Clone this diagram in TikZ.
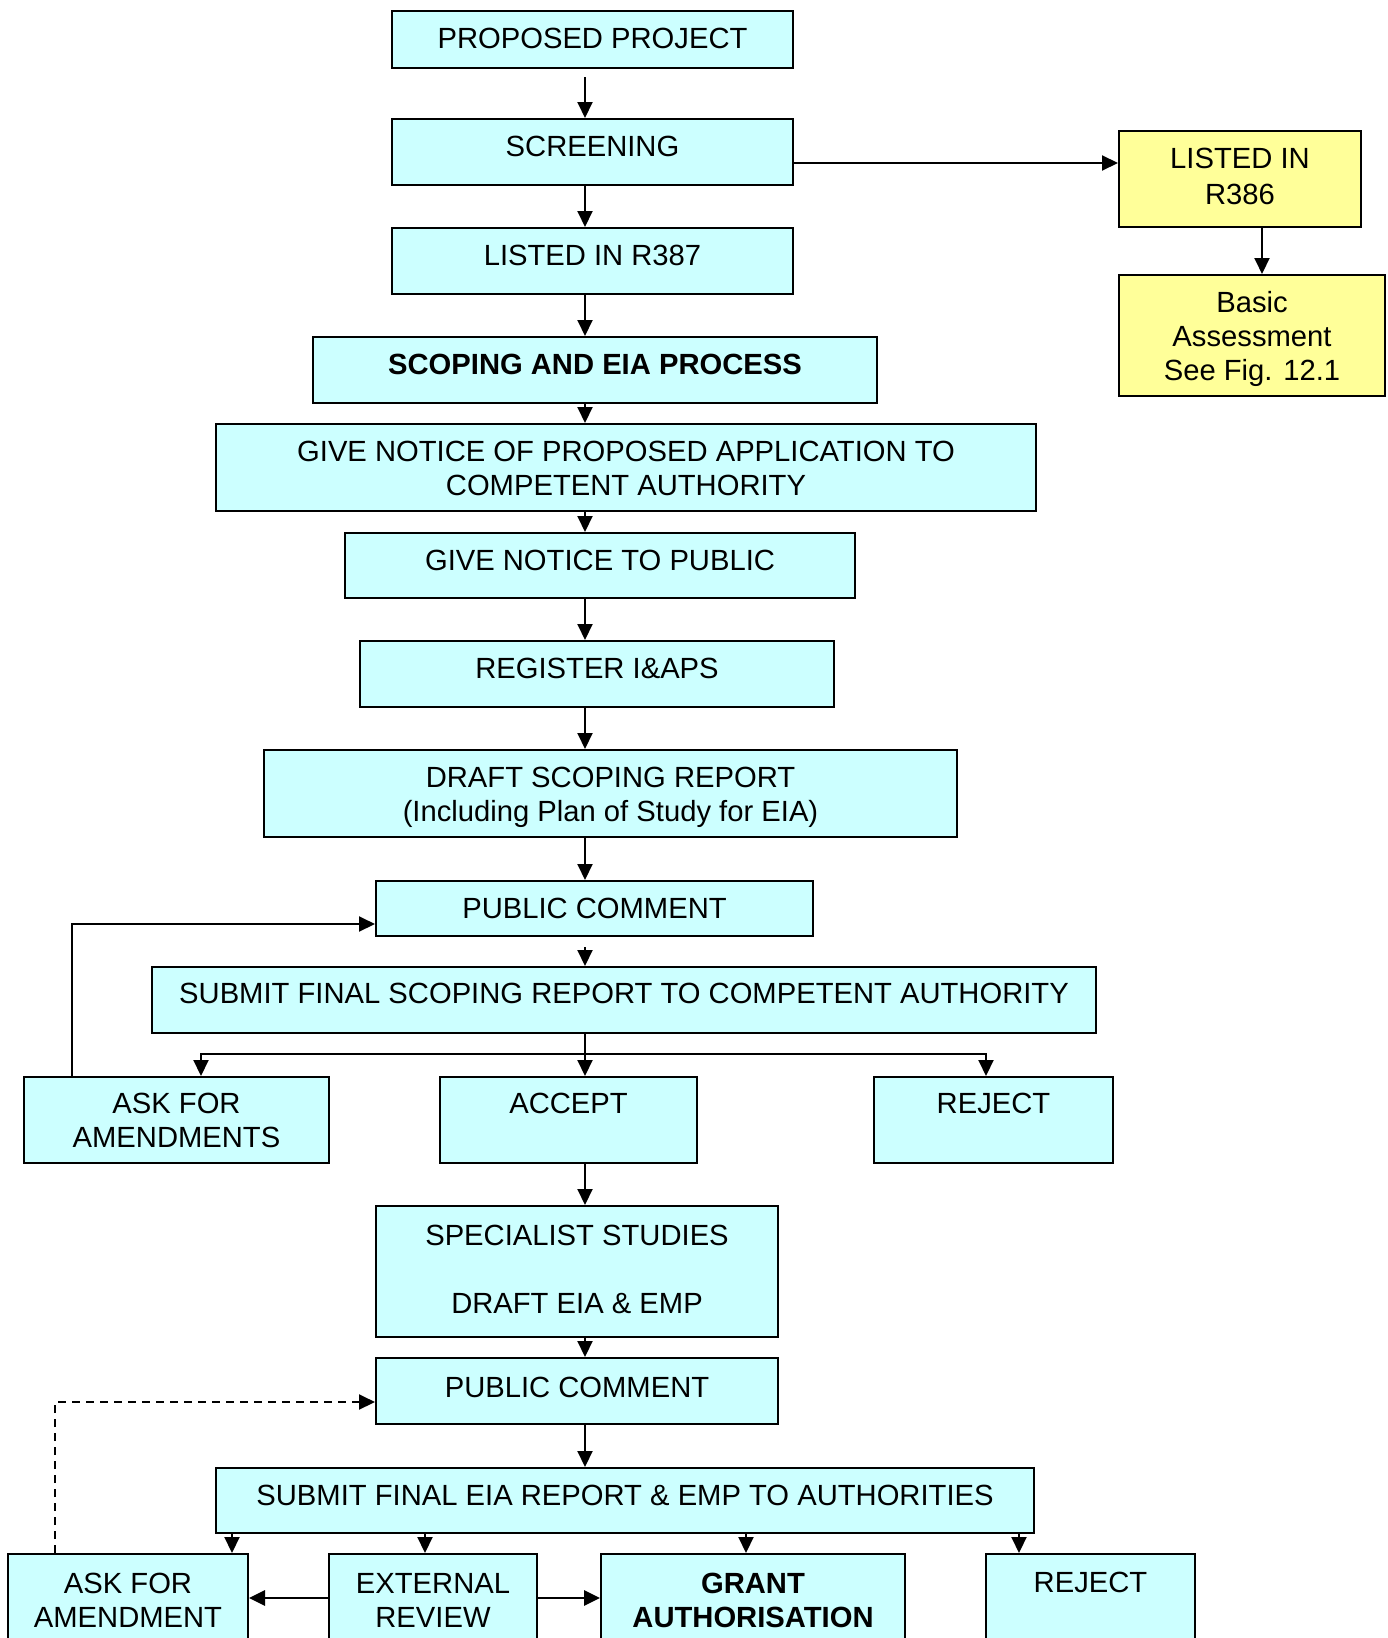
\documentclass[tikz,border=0pt]{standalone}
\usepackage{fontspec}
\setmainfont{Liberation Sans}
\usetikzlibrary{arrows.meta}
\definecolor{cbox}{HTML}{CCFFFF}
\definecolor{ybox}{HTML}{FFFF99}
\newcommand\cstr{\rule{0pt}{0.716em}}
\begin{document}
\begin{tikzpicture}[x=0.5pt,y=-0.5pt,
  bx/.style 2 args={draw=black, line width=1pt, fill=cbox, inner sep=0pt, minimum width=#1*0.5pt, minimum height=#2*0.5pt},
  yb/.style 2 args={bx={#1}{#2}, fill=ybox},
  lbl/.style={anchor=north, inner sep=0pt, align=center, font=\fontsize{14.6pt}{17pt}\selectfont},
  arr/.style={line width=1pt, -{Triangle[length=8pt,width=7.5pt]}},
  ln/.style={line width=1pt}]
\clip (0,0) rectangle (1387,1638);
\fill[white] (0,0) rectangle (1387,1638);
% axis coordinates
\coordinate (ax) at (585,0);
% boxes
\node[bx={401}{57}] (pp) at (592.5,39.5) {};
\node[bx={401}{66}] (scr) at (592.5,152) {};
\node[bx={401}{66}] (r387) at (592.5,261) {};
\node[bx={564}{66}] (scop) at (595,370) {};
\node[yb={242}{96}] (r386) at (1240,179) {};
\node[yb={266}{121}] (basic) at (1252,335.5) {};
\node[bx={820}{87}] (gnpa) at (626,467.5) {};
\node[bx={510}{65}] (gnp) at (600,565.5) {};
\node[bx={474}{66}] (reg) at (597,674) {};
\node[bx={693}{87}] (draft) at (610.5,793.5) {};
\node[bx={437}{55}] (pc1) at (594.5,908.5) {};
\node[bx={944}{66}] (sub1) at (624,1000) {};
\node[bx={305}{86}] (ask1) at (176.5,1120) {};
\node[bx={257}{86}] (acc) at (568.5,1120) {};
\node[bx={239}{86}] (rej1) at (993.5,1120) {};
\node[bx={402}{131}] (spec) at (577,1271.5) {};
\node[bx={402}{66}] (pc2) at (577,1391) {};
\node[bx={818}{65}] (sub2) at (625,1500.5) {};
\node[bx={240}{140}] (ask2) at (128,1624) {};
\node[bx={208}{140}] (ext) at (433,1624) {};
\node[bx={304}{140}] (grant) at (753,1624) {};
\node[bx={209}{140}] (rej2) at (1090.5,1624) {};
% labels
\node[lbl] (tpp) at ([yshift=-8.5pt]pp.north) {\cstr PROPOSED PROJECT};
\node[lbl] (tscr) at ([yshift=-8.5pt]scr.north) {\cstr SCREENING};
\node[lbl] (tr387) at ([yshift=-8.5pt]r387.north) {\cstr LISTED IN R387};
\node[lbl] (tscop) at ([yshift=-8.5pt]scop.north) {\cstr\bfseries SCOPING AND EIA PROCESS};
\node[lbl, font=\fontsize{14.6pt}{18pt}\selectfont] (tr386) at ([yshift=-8.5pt]r386.north) {\cstr LISTED IN\\R386};
\node[lbl] (tbasic) at ([yshift=-8.5pt]basic.north) {\cstr Basic\\Assessment\\See Fig. 12.1};
\node[lbl] (tgnpa) at ([yshift=-8.5pt]gnpa.north) {\cstr GIVE NOTICE OF PROPOSED APPLICATION TO\\COMPETENT AUTHORITY};
\node[lbl] (tgnp) at ([yshift=-8.5pt]gnp.north) {\cstr GIVE NOTICE TO PUBLIC};
\node[lbl] (treg) at ([yshift=-8.5pt]reg.north) {\cstr REGISTER I\&APS};
\node[lbl] (tdraft) at ([yshift=-8.5pt]draft.north) {\cstr DRAFT SCOPING REPORT\\(Including Plan of Study for EIA)};
\node[lbl] (tpc1) at ([yshift=-8.5pt]pc1.north) {\cstr PUBLIC COMMENT};
\node[lbl] (tsub1) at ([yshift=-8pt]sub1.north) {\cstr SUBMIT FINAL SCOPING REPORT TO COMPETENT AUTHORITY};
\node[lbl] (task1) at ([yshift=-8pt]ask1.north) {\cstr ASK FOR\\AMENDMENTS};
\node[lbl] (tacc) at ([yshift=-8pt]acc.north) {\cstr ACCEPT};
\node[lbl] (trej1) at ([yshift=-8pt]rej1.north) {\cstr REJECT};
\node[lbl] (tspec) at ([yshift=-9.5pt]spec.north) {\cstr SPECIALIST STUDIES\\[17pt]DRAFT EIA \& EMP};
\node[lbl] (tpc2) at ([yshift=-9.5pt]pc2.north) {\cstr PUBLIC COMMENT};
\node[lbl] (tsub2) at ([yshift=-8.5pt]sub2.north) {\cstr SUBMIT FINAL EIA REPORT \& EMP TO AUTHORITIES};
\node[lbl] (task2) at ([yshift=-9.5pt]ask2.north) {\cstr ASK FOR\\AMENDMENT};
\node[lbl] (text) at ([yshift=-9.5pt]ext.north) {\cstr EXTERNAL\\REVIEW};
\node[lbl] (tgrant) at ([yshift=-9.5pt]grant.north) {\cstr\bfseries GRANT\\\bfseries AUTHORISATION};
\node[lbl] (trej2) at ([yshift=-9pt]rej2.north) {\cstr REJECT};
% main vertical connectors
\draw[arr] ([yshift=-4pt]pp.south -| ax) -- (scr.north -| ax);
\draw[arr] (scr.south -| ax) -- (r387.north -| ax);
\draw[arr] (r387.south -| ax) -- (scop.north -| ax);
\draw[arr] (scop.south -| ax) -- (gnpa.north -| ax);
\draw[arr] (gnpa.south -| ax) -- (gnp.north -| ax);
\draw[arr] (gnp.south -| ax) -- (reg.north -| ax);
\draw[arr] (reg.south -| ax) -- (draft.north -| ax);
\draw[arr] (draft.south -| ax) -- (pc1.north -| ax);
\draw[arr] ([yshift=-5pt]pc1.south -| ax) -- (sub1.north -| ax);
% screening to R386
\coordinate (ys) at (0,163);
\draw[arr] (scr.east |- ys) -- (r386.west |- ys);
\coordinate (xr) at (1262,0);
\draw[arr] (r386.south -| xr) -- (basic.north -| xr);
% branch from sub1
\coordinate (br) at (585,1054);
\draw[ln] (sub1.south -| ax) -- (br);
\draw[arr] (br) -| ([xshift=12.25pt]ask1.north);
\draw[arr] (br) -| ([xshift=-3.75pt]rej1.north);
\draw[arr] (br) -- (acc.north -| ax);
% loop back
\draw[arr] ([xshift=-52.25pt]ask1.north) |- ([yshift=-7.75pt]pc1.west);
% accept onwards
\draw[arr] (acc.south -| ax) -- (spec.north -| ax);
\draw[arr] (spec.south -| ax) -- (pc2.north -| ax);
\draw[arr] (pc2.south -| ax) -- (sub2.north -| ax);
% sub2 to bottom
\coordinate (x1) at (232,0);
\coordinate (x2) at (425,0);
\coordinate (x3) at (746,0);
\coordinate (x4) at (1019,0);
\draw[arr] (sub2.south -| x1) -- (ask2.north -| x1);
\draw[arr] (sub2.south -| x2) -- (ext.north -| x2);
\draw[arr] (sub2.south -| x3) -- (grant.north -| x3);
\draw[arr] (sub2.south -| x4) -- (rej2.north -| x4);
% dashed loop
\draw[arr, dash pattern=on 4pt off 3pt] ([xshift=-36.5pt]ask2.north) |- ([yshift=-5.5pt]pc2.west);
% external review arrows
\coordinate (yb) at (0,1598);
\draw[arr, line width=1.4pt] (ext.west |- yb) -- (ask2.east |- yb);
\draw[arr, line width=1.4pt] (ext.east |- yb) -- (grant.west |- yb);
\end{tikzpicture}
\end{document}
